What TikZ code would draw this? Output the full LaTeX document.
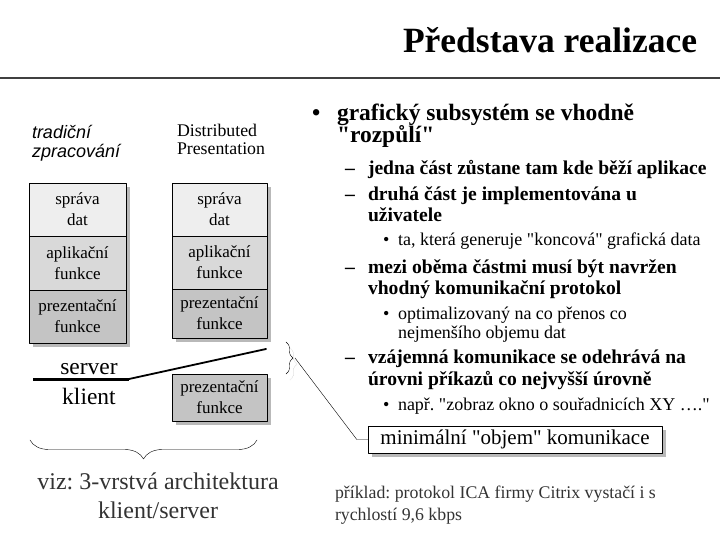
\documentclass[tikz,border=0pt]{standalone}
\usepackage{fontspec}
\setmainfont{Liberation Serif}[Ligatures=TeXOff]
\setsansfont{Liberation Sans}
\usetikzlibrary{positioning,shadows,decorations.pathreplacing}
\definecolor{lightbox}{HTML}{EEEEEE}
\definecolor{midbox}{HTML}{D9D9D9}
\definecolor{darkbox}{HTML}{C4C4C4}
\definecolor{greytext}{HTML}{333333}
\frenchspacing
\begin{document}
\begin{tikzpicture}[x=1pt,y=-1pt,line join=round,line cap=round,
  txt/.style={anchor=base west,inner sep=0pt,outer sep=0pt},
  ctxt/.style={anchor=base,inner sep=0pt,outer sep=0pt},
  big/.style={font=\fontsize{23.5}{26}\selectfont\bfseries},
  mid/.style={font=\fontsize{19.6}{23}\selectfont\bfseries},
  small/.style={font=\fontsize{18}{20}\selectfont},
  shade/.style={drop shadow={shadow xshift=4pt,shadow yshift=-4pt,fill=gray!55,opacity=1}},
  layer/.style={draw,line width=0.8pt,outer sep=0pt,inner sep=0pt,align=center,
    minimum width=97pt,minimum height=53pt,font=\fontsize{17}{21}\selectfont,shade}]
\useasboundingbox (0,0) rectangle (720,540);
% title
\node[txt,font=\fontsize{35.5}{40}\selectfont\bfseries] (title) at (403,53) {Představa realizace};
\coordinate (ruleL) at (0,78); \coordinate (ruleR) at (720,78);
\draw[line width=2.4pt,black!75,line cap=butt] (ruleL)--(ruleR);
% column heads
\node[txt,font=\fontsize{18}{20}\sffamily\itshape] (hl1) at (32,139) {tradiční};
\node[txt,font=\fontsize{18}{20}\sffamily\itshape] (hl2) at (32,158) {zpracování};
\node[txt,font=\fontsize{17.8}{20}\selectfont] (hr1) at (177,137) {Distributed};
\node[txt,font=\fontsize{17.8}{20}\selectfont] (hr2) at (177,155) {Presentation};
% traditional stack
\node[layer,fill=lightbox] (lsd) at (77.5,209.5) {správa\\dat};
\node[layer,fill=midbox,minimum height=54pt,below=0pt of lsd] (lap) {aplikační\\funkce};
\node[layer,fill=darkbox,below=0pt of lap] (lpf) {prezentační\\funkce};
% distributed stack
\node[layer,fill=lightbox,minimum width=95pt] (rsd) at (219.5,209.5) {správa\\dat};
\node[layer,fill=midbox,minimum width=95pt,below=0pt of rsd] (rap) {aplikační\\funkce};
\node[layer,fill=darkbox,minimum width=95pt,minimum height=49pt,below=0pt of rap] (rpf) {prezentační\\funkce};
\node[layer,fill=darkbox,minimum width=95pt,minimum height=47pt] (kpf) at (219.5,397.5) {prezentační\\funkce};
% server / klient cut
\node[ctxt,font=\fontsize{23.5}{26}\selectfont] (srv) at (89,374) {server};
\node[ctxt,font=\fontsize{23.5}{26}\selectfont] (kli) at (89,404) {klient};
\coordinate (cutL) at (33,379); \coordinate (cutM) at (129,379); \coordinate (cutR) at (266,349);
\draw[line width=3pt,line cap=butt] (cutL)--(cutM);
\draw[line width=1.8pt] (cutM)--(cutR);
% small brace and its pointer
\coordinate (brT) at (286,342); \coordinate (brB) at (286,374); \coordinate (brTip) at (295,358);
\draw[gray!60,densely dotted,decorate,decoration={brace,amplitude=7pt}] ([shift={(4,6)}]brT)--([shift={(4,6)}]brB);
\draw[decorate,decoration={brace,amplitude=7pt}] (brT)--(brB);
\node[draw,fill=white,minimum width=294pt,minimum height=27pt,inner sep=0pt,shade,
  font=\fontsize{21}{23}\selectfont] (komm) at (515,439.5) {minimální "objem" komunikace};
\draw (brTip)--([xshift=-11pt]komm.west)--(komm.west);
% bottom brace
\coordinate (bbL) at (30,440); \coordinate (bbR) at (257,440);
\draw[decorate,decoration={brace,mirror,amplitude=19pt}] (bbL)--(bbR);
\node[ctxt,greytext,font=\fontsize{24}{28}\selectfont] (viz1) at (158,489) {viz: 3-vrstvá architektura};
\node[ctxt,greytext,font=\fontsize{24}{28}\selectfont] (viz2) at (158,518) {klient/server};
% bullets
\node[txt,big] (b0) at (312,121) {•};
\node[txt,big] (b1) at (337,121) {grafický subsystém se vhodně};
\node[txt,big] (b2) at (337,143) {"rozpůlí"};
\node[txt,mid] (d1) at (345,175) {–};
\node[txt,mid] (t1) at (368,175) {jedna část zůstane tam kde běží aplikace};
\node[txt,mid] (d2) at (345,201) {–};
\node[txt,mid] (t2) at (368,201) {druhá část je implementována u};
\node[txt,mid] (t3) at (368,222) {uživatele};
\node[txt,small] (s1) at (383,245) {•};
\node[txt,small] (u1) at (398,245) {ta, která generuje "koncová" grafická data};
\node[txt,mid] (d3) at (345,273) {–};
\node[txt,mid] (t4) at (368,273) {mezi oběma částmi musí být navržen};
\node[txt,mid] (t5) at (368,294) {vhodný komunikační protokol};
\node[txt,small] (s2) at (383,319) {•};
\node[txt,small] (u2) at (398,319) {optimalizovaný na co přenos co};
\node[txt,small] (u3) at (398,338) {nejmenšího objemu dat};
\node[txt,mid] (d4) at (345,363) {–};
\node[txt,mid] (t6) at (368,363) {vzájemná komunikace se odehrává na};
\node[txt,mid] (t7) at (368,385) {úrovni příkazů co nejvyšší úrovně};
\node[txt,small] (s3) at (383,410) {•};
\node[txt,small] (u4) at (398,410) {např. "zobraz okno o souřadnicích XY …."};
% example note
\node[txt,greytext,font=\fontsize{17.8}{20}\selectfont] (ex1) at (335,498) {příklad: protokol ICA firmy Citrix vystačí i s};
\node[txt,greytext,font=\fontsize{17.8}{20}\selectfont] (ex2) at (335,520) {rychlostí 9,6 kbps};
\end{tikzpicture}
\end{document}
